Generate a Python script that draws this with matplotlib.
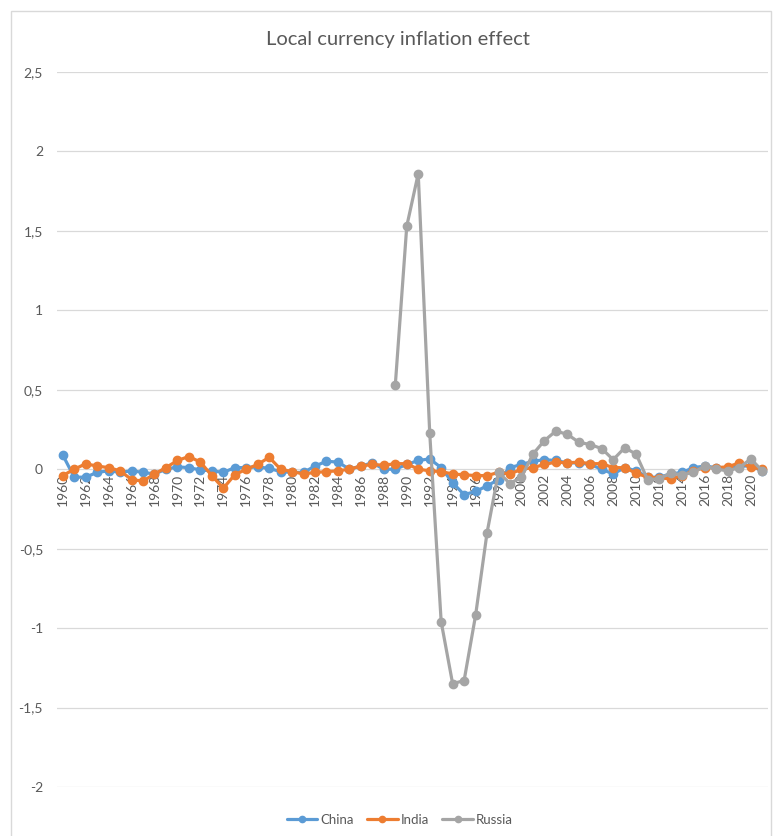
import numpy as np
import matplotlib
matplotlib.use("Agg")
import matplotlib.pyplot as plt
from matplotlib.ticker import FuncFormatter, MultipleLocator
from matplotlib.patches import Rectangle

plt.rcParams['font.family'] = ['Lato', 'DejaVu Sans']

years = list(range(1960, 2022))

china = [0.09, -0.05, -0.05, -0.02, -0.01, -0.02, -0.01, -0.02, -0.03, 0.0,
         0.015, 0.01, -0.005, -0.01, -0.02, 0.01, 0.01, 0.015, 0.005, -0.015,
         -0.02, -0.02, 0.02, 0.05, 0.045, 0.0, 0.02, 0.04, 0.0, 0.0,
         0.03, 0.055, 0.065, 0.01, -0.085, -0.16, -0.14, -0.105, -0.065, 0.01,
         0.03, 0.05, 0.06, 0.055, 0.04, 0.04, 0.03, 0.0, -0.03, 0.01,
         -0.01, -0.05, -0.05, -0.03, -0.02, 0.01, 0.02, 0.01, 0.0, 0.02,
         0.02, -0.01]

india = [-0.04, 0.0, 0.034, 0.02, 0.01, -0.01, -0.065, -0.075, -0.03, 0.01,
         0.055, 0.08, 0.045, -0.04, -0.12, -0.035, 0.0, 0.03, 0.075, 0.0,
         -0.015, -0.03, -0.02, -0.015, -0.01, 0.0, 0.02, 0.03, 0.025, 0.035,
         0.035, 0.0, -0.01, -0.015, -0.03, -0.035, -0.04, -0.04, -0.02, -0.03,
         0.0, 0.01, 0.03, 0.045, 0.04, 0.045, 0.035, 0.035, 0.01, 0.01,
         -0.025, -0.05, -0.055, -0.06, -0.04, -0.01, 0.01, 0.01, 0.015, 0.04,
         0.015, 0.0]

# no data before 1989
russia = [None] * 29 + [
    0.53, 1.53, 1.86, 0.23, -0.96, -1.35, -1.33, -0.92, -0.40, -0.02,
    -0.09, -0.05, 0.095, 0.18, 0.24, 0.22, 0.17, 0.155, 0.13, 0.06,
    0.135, 0.095, -0.065, -0.06, -0.025, -0.035, -0.02, 0.02, 0.0, -0.01,
    0.01, 0.065, -0.01]

series = [("China", china, "#5B9BD5"),
          ("India", india, "#ED7D31"),
          ("Russia", russia, "#A5A5A5")]

W, H = 774, 836
fig = plt.figure(figsize=(W / 100, H / 100), dpi=100)
ax = fig.add_axes([57 / W, (H - 787) / H, (768 - 57) / W, (787 - 72) / H])

# light chart-area border
fig.patches.append(Rectangle((11 / W, -0.01), (771 - 11) / W, (H - 11) / H + 0.01,
                             transform=fig.transFigure, fill=False,
                             edgecolor="#D9D9D9", linewidth=1.0))

for name, vals, col in series:
    y = np.array([np.nan if v is None else v for v in vals], dtype=float)
    ax.plot(years, y, color=col, linewidth=2.3, marker="o", markersize=6,
            label=name, solid_capstyle="round")

ax.set_xlim(1959.5, 2021.5)
ax.set_ylim(-2, 2.5)
ax.yaxis.set_major_locator(MultipleLocator(0.5))
ax.yaxis.set_major_formatter(FuncFormatter(lambda v, p: ("%g" % v).replace(".", ",")))
ax.grid(axis="y", color="#D9D9D9", linewidth=0.9)
ax.set_axisbelow(True)

# year labels sit along the zero line
for s in ["top", "right", "left", "bottom"]:
    ax.spines[s].set_visible(False)
ax.spines["bottom"].set_position(("data", 0))
ax.set_xticks(years[::2])
ax.set_xticklabels([str(y) for y in years[::2]])
ax.tick_params(axis="x", length=0, pad=3, labelsize=10, labelcolor="#595959",
               labelrotation=90)
ax.tick_params(axis="y", length=0, pad=10, labelsize=10, labelcolor="#595959")

fig.text(398 / W, 1 - 40 / H, "Local currency inflation effect", ha="center",
         va="center", fontsize=14.5, color="#595959")

ax.legend(loc="center", bbox_to_anchor=(400 / W, 1 - 820 / H),
          bbox_transform=fig.transFigure, ncol=3, frameon=False, fontsize=9.5,
          labelcolor="#595959", handlelength=2.3, handletextpad=0.25,
          columnspacing=1.0, markerscale=0.75)

fig.savefig("out.png", dpi=100)
